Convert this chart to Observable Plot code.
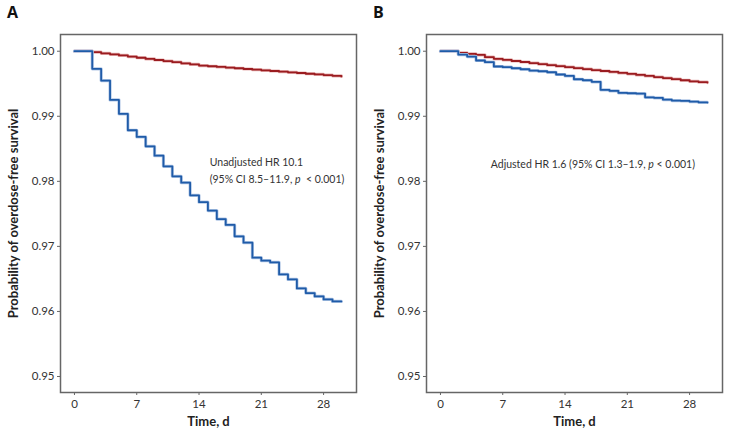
<!DOCTYPE html>
<html>
<head>
<meta charset="utf-8">
<script src="https://cdn.jsdelivr.net/npm/d3@7"></script>
<script src="https://cdn.jsdelivr.net/npm/@observablehq/plot@0.6"></script>
<style>
  html, body { margin: 0; padding: 0; background: #fff; }
  #wrap { position: relative; width: 729px; height: 438px; font-family: Lato, sans-serif; color: #222; }
  .panel { position: absolute; top: 0; }
  .letter { position: absolute; top: 1px; font-weight: bold; font-size: 16px; font-family: "Open Sans", sans-serif; color: #111; z-index: 2; }
</style>
</head>
<body>
<div id="wrap">
  <div class="panel" id="pa" style="left:0px"></div>
  <div class="panel" id="pb" style="left:365px"></div>
  <div class="letter" style="left:7px">A</div>
  <div class="letter" style="left:373px">B</div>
</div>
<script>
// Time (days)
const days = [0,1,2,3,4,5,6,7,8,9,10,11,12,13,14,15,16,17,18,19,20,21,22,23,24,25,26,27,28,29,30];

// Panel A (unadjusted)
const aRed = [1.0000,1.0000,0.99985,0.99968,0.99952,0.99935,0.99917,0.99900,0.99882,0.99865,0.99848,0.99831,0.99814,0.99797,0.99780,0.99769,0.99758,0.99748,0.99738,0.99727,0.99717,0.99706,0.99696,0.99685,0.99675,0.99665,0.99654,0.99644,0.99633,0.99622,0.99612];
const aBlue = [1.0000,1.0000,0.99730,0.99549,0.99252,0.99037,0.98785,0.98683,0.98538,0.98395,0.98231,0.98077,0.97980,0.97785,0.97680,0.97550,0.97420,0.97330,0.97154,0.97057,0.96826,0.96780,0.96754,0.96569,0.96492,0.96354,0.96282,0.96231,0.96185,0.96154,0.96154];

// Panel B (adjusted)
const bRed = [1.0000,1.0000,0.99975,0.99960,0.99944,0.99908,0.99883,0.99867,0.99850,0.99834,0.99818,0.99802,0.99786,0.99770,0.99754,0.99740,0.99725,0.99710,0.99696,0.99681,0.99667,0.99652,0.99636,0.99620,0.99603,0.99587,0.99570,0.99554,0.99538,0.99525,0.99518];
const bBlue = [1.0000,1.0000,0.99949,0.99918,0.99857,0.99831,0.99765,0.99754,0.99738,0.99723,0.99703,0.99692,0.99677,0.99642,0.99621,0.99569,0.99554,0.99529,0.99406,0.99391,0.99360,0.99354,0.99349,0.99292,0.99283,0.99257,0.99242,0.99237,0.99226,0.99215,0.99212];

const xTicks = [0, 7, 14, 21, 28];
const yTicks = [0.95, 0.96, 0.97, 0.98, 0.99, 1.00];
const yLabel = "Probability of overdose-free survival";
const xLabel = "Time, d";

const annA = [
  {t: 15.2, s: 0.98290, label: "Unadjusted HR 10.1"},
  {t: 15.2, s: 0.98030, label: "(95% CI 8.5–11.9, {p}\u00a0 < 0.001)"}
];
const annB = [
  {t: 5.66, s: 0.98260, label: "Adjusted HR 1.6 (95% CI 1.3–1.9, {p} < 0.001)"}
];

const RED = "#9a1c20";
const BLUE = "#1f5ba8";

function series(vals) { return days.map((d, i) => ({t: d, s: vals[i]})); }

function makePanel(red, blue, ann, marginLeft, marginRight, width) {
  const svg = Plot.plot({
    width, height: 438,
    marginLeft, marginRight, marginTop: 34, marginBottom: 46,
    style: {fontFamily: "Lato, sans-serif", fontSize: "11px", color: "#333", background: "transparent"},
    x: {domain: [-1.57, 31.7], label: null},
    y: {domain: [0.94754, 1.00257], label: null},
    marks: [
      Plot.axisX({ticks: xTicks, tickSize: 3, tickPadding: 4, fontSize: 11.5, stroke: "#666"}),
      Plot.axisY({ticks: yTicks, tickFormat: d3.format(".2f"), tickSize: 3, tickPadding: 3, fontSize: 11.5, stroke: "#666"}),
      Plot.line(series(red), {x: "t", y: "s", curve: "step-after", stroke: "#e8b4b4", strokeWidth: 3.2}),
      Plot.line(series(red), {x: "t", y: "s", curve: "step-after", stroke: RED, strokeWidth: 1.8}),
      Plot.line(series(blue), {x: "t", y: "s", curve: "step-after", stroke: "#b3c8e6", strokeWidth: 3.2}),
      Plot.line(series(blue), {x: "t", y: "s", curve: "step-after", stroke: BLUE, strokeWidth: 1.8}),
      Plot.text(ann, {x: "t", y: "s", text: "label", textAnchor: "start", fontSize: 10.5, fill: "#333"}),
      Plot.text([xLabel], {frameAnchor: "bottom", dy: 33, textAnchor: "middle", fontWeight: "bold", fontSize: 13, fill: "#222"}),
      Plot.text([yLabel], {frameAnchor: "left", dx: -47, rotate: -90, textAnchor: "middle", fontWeight: "bold", fontSize: 13, fill: "#222"}),
      Plot.frame({stroke: "#666", strokeWidth: 1.5})
    ]
  });
  // italic p
  svg.querySelectorAll("text").forEach(el => {
    const txt = el.textContent;
    if (txt.includes("{p}")) {
      const [before, after] = txt.split("{p}");
      while (el.firstChild) el.removeChild(el.firstChild);
      const ns = "http://www.w3.org/2000/svg";
      const t1 = document.createElementNS(ns, "tspan"); t1.textContent = before;
      const t2 = document.createElementNS(ns, "tspan"); t2.textContent = "p"; t2.setAttribute("font-style", "italic");
      const t3 = document.createElementNS(ns, "tspan"); t3.textContent = after;
      el.append(t1, t2, t3);
    }
  });
  return svg;
}

document.getElementById("pa").append(makePanel(aRed, aBlue, annA, 60, 9, 365));
document.getElementById("pb").append(makePanel(bRed, bBlue, annB, 61, 7, 364));
</script>
</body>
</html>
